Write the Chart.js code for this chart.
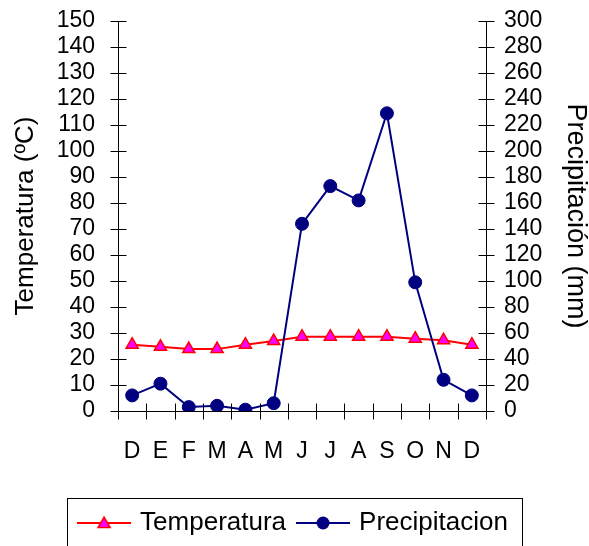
<!DOCTYPE html>
<html>
<head>
<meta charset="utf-8">
<script src="https://cdn.jsdelivr.net/npm/chart.js@4/dist/chart.umd.min.js"></script>
<style>
  html, body { margin: 0; padding: 0; background: #ffffff; }
  #wrap { width: 589px; height: 546px; }
</style>
</head>
<body>
<div id="wrap"><canvas id="climograma" width="589" height="546"></canvas></div>
<script>
// Monthly climate data (December to December)
const months = ['D', 'E', 'F', 'M', 'A', 'M', 'J', 'J', 'A', 'S', 'O', 'N', 'D'];
const temperatura = [25.5, 24.7, 23.8, 23.8, 25.5, 26.9, 28.6, 28.6, 28.6, 28.6, 27.8, 27.2, 25.5];
const precipitacion = [12, 21, 3, 4, 1, 6, 144, 173, 162, 229, 99, 24, 12];

// Axis ranges
const tempRange = { min: 0, max: 150, step: 10 };
const precRange = { min: 0, max: 300, step: 20 };

const FONT = 'Liberation Sans, Arial, sans-serif';
const TEMP_LINE = '#FF0000', TEMP_FILL = '#FF00FF';
const PREC_COLOR = '#000080';

// Legend glyphs: a short line with the series marker in the middle
function legendIcon(kind) {
  const c = document.createElement('canvas');
  c.width = 54; c.height = 20;
  const g = c.getContext('2d');
  g.lineWidth = 2;
  g.strokeStyle = kind === 'tri' ? TEMP_LINE : PREC_COLOR;
  g.beginPath(); g.moveTo(0, 10); g.lineTo(54, 10); g.stroke();
  if (kind === 'tri') {
    const r = 7;
    g.beginPath();
    for (let k = 0; k < 3; k++) {
      const a = k * 2 * Math.PI / 3;
      const px = 27 + Math.sin(a) * r, py = 11 - Math.cos(a) * r;
      k ? g.lineTo(px, py) : g.moveTo(px, py);
    }
    g.closePath();
    g.fillStyle = TEMP_FILL; g.fill();
    g.lineWidth = 1.5; g.strokeStyle = TEMP_LINE; g.stroke();
  } else {
    g.beginPath(); g.arc(27, 10, 6.5, 0, 2 * Math.PI);
    g.fillStyle = PREC_COLOR; g.fill();
  }
  return c;
}
const legendIcons = [legendIcon('tri'), legendIcon('dot')];

// Tick marks that cross each axis line (half inside, half outside)
const crossTicks = {
  id: 'crossTicks',
  afterDraw(chart) {
    const ctx = chart.ctx;
    const len = 8;
    ctx.save();
    ctx.strokeStyle = '#000';
    ctx.lineWidth = 1;
    ctx.beginPath();
    ['y', 'y1'].forEach(id => {
      const s = chart.scales[id];
      const x = Math.round(id === 'y' ? s.right : s.left) + 0.5;
      s.ticks.forEach((t, i) => {
        const py = Math.round(s.getPixelForTick(i)) + 0.5;
        ctx.moveTo(x - len, py); ctx.lineTo(x + len, py);
      });
    });
    const sx = chart.scales.x;
    const yb = Math.round(sx.top) + 0.5;
    for (let i = 0; i <= months.length; i++) {
      const px = Math.round(sx.getPixelForValue(i - 0.5)) + 0.5;
      ctx.moveTo(px, yb - len); ctx.lineTo(px, yb + len);
    }
    ctx.stroke();
    ctx.restore();
  }
};

// Frame around the legend items
const legendFrame = {
  id: 'legendFrame',
  afterDraw(chart) {
    const boxes = chart.legend && chart.legend.legendHitBoxes;
    if (!boxes || !boxes.length) return;
    const left = Math.min(...boxes.map(b => b.left)) - 14;
    const right = Math.max(...boxes.map(b => b.left + b.width)) + 14;
    const mid = boxes[0].top + boxes[0].height / 2;
    const top = Math.round(mid - 25) + 0.5;
    const ctx = chart.ctx;
    ctx.save();
    ctx.strokeStyle = '#000';
    ctx.lineWidth = 1;
    ctx.strokeRect(Math.round(left) + 0.5, top, Math.round(right - left), chart.height - top + 20);
    ctx.restore();
  }
};

const tickFont = { family: FONT, size: 23 };

// Vertical axes: fixed width, no extra end padding so the plot spans the full height
function fitVertical(width) {
  return s => { s.width = width; s.paddingTop = 0; s.paddingBottom = 0; };
}

new Chart(document.getElementById('climograma'), {
  type: 'line',
  data: {
    labels: months,
    datasets: [
      {
        label: 'Temperatura',
        data: temperatura,
        yAxisID: 'y',
        order: 1,
        borderColor: TEMP_LINE,
        borderWidth: 2,
        pointStyle: 'triangle',
        pointRadius: 7,
        pointBackgroundColor: TEMP_FILL,
        pointBorderColor: TEMP_LINE,
        pointBorderWidth: 1.5,
        tension: 0
      },
      {
        label: 'Precipitacion',
        data: precipitacion,
        yAxisID: 'y1',
        order: 0,
        borderColor: PREC_COLOR,
        borderWidth: 2,
        pointStyle: 'circle',
        pointRadius: 6.5,
        pointBackgroundColor: PREC_COLOR,
        pointBorderColor: PREC_COLOR,
        pointBorderWidth: 1,
        tension: 0
      }
    ]
  },
  options: {
    responsive: false,
    animation: false,
    devicePixelRatio: 1,
    layout: { padding: { top: 21, left: 0, right: 0, bottom: 0 } },
    plugins: {
      tooltip: { enabled: false },
      legend: {
        position: 'bottom',
        labels: {
          usePointStyle: true,
          pointStyleWidth: 46,
          padding: 14,
          color: '#000',
          font: { family: FONT, size: 26 },
          sort: (a, b) => a.datasetIndex - b.datasetIndex,
          generateLabels(chart) {
            const items = Chart.defaults.plugins.legend.labels.generateLabels(chart);
            items.forEach(it => { it.pointStyle = legendIcons[it.datasetIndex]; });
            return items;
          }
        }
      }
    },
    scales: {
      x: {
        type: 'category',
        offset: true,
        grid: { display: false, drawTicks: false },
        border: { display: true, color: '#000', width: 1 },
        ticks: { color: '#000', font: tickFont, padding: 27, maxRotation: 0, autoSkip: false },
        afterFit(s) { s.height = 546 - 411 - (s.chart.legend ? s.chart.legend.height : 0); }
      },
      y: {
        position: 'left',
        min: tempRange.min,
        max: tempRange.max,
        grid: { display: false, drawTicks: false },
        border: { display: true, color: '#000', width: 1 },
        ticks: { stepSize: tempRange.step, autoSkip: false, color: '#000', font: tickFont, padding: 23 },
        title: {
          display: true,
          text: 'Temperatura (ºC)',
          color: '#000',
          font: { family: FONT, size: 26, lineHeight: 1 },
          padding: { top: 13, bottom: 0 }
        },
        afterFit: fitVertical(118)
      },
      y1: {
        position: 'right',
        min: precRange.min,
        max: precRange.max,
        grid: { display: false, drawTicks: false },
        border: { display: true, color: '#000', width: 1 },
        ticks: { stepSize: precRange.step, autoSkip: false, color: '#000', font: tickFont, padding: 18 },
        title: {
          display: true,
          text: 'Precipitación (mm)',
          color: '#000',
          font: { family: FONT, size: 27, lineHeight: 1 },
          padding: { top: 0, bottom: 0 }
        },
        afterFit: fitVertical(103)
      }
    }
  },
  plugins: [crossTicks, legendFrame]
});
</script>
</body>
</html>
